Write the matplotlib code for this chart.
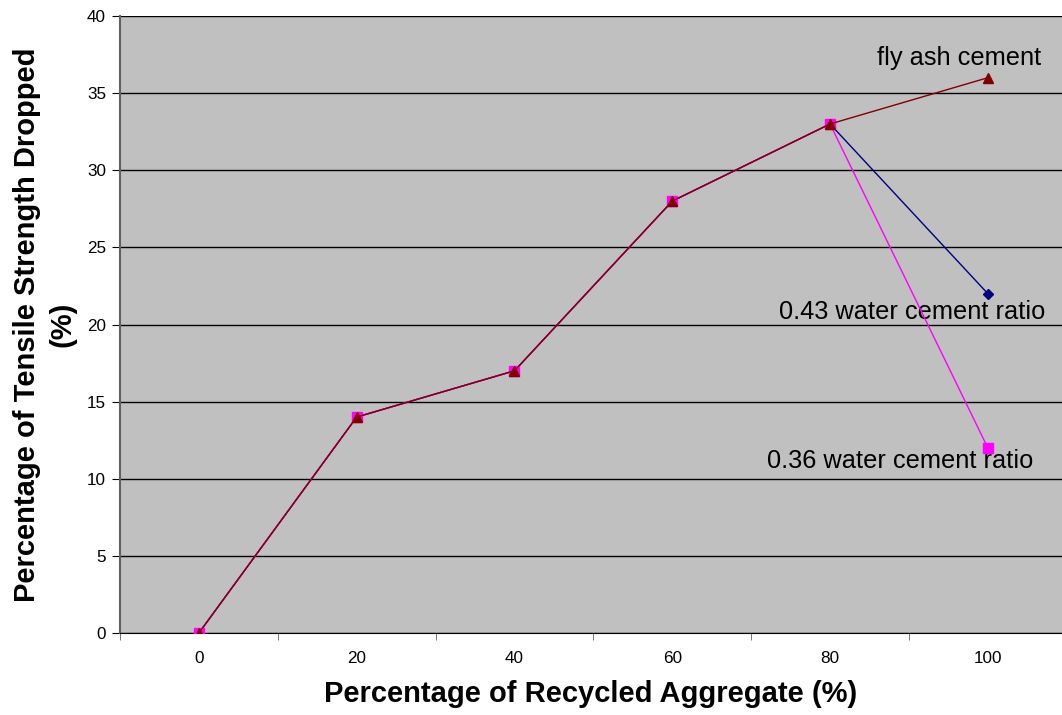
import matplotlib
matplotlib.use("Agg")
import matplotlib.pyplot as plt
from matplotlib.ticker import MultipleLocator, FixedLocator

plt.rcParams['font.family'] = ['Liberation Sans', 'DejaVu Sans']

recycled = [0, 20, 40, 60, 80, 100]
wc_043 = [0, 14, 17, 28, 33, 22]
wc_036 = [0, 14, 17, 28, 33, 12]
fly_ash = [0, 14, 17, 28, 33, 36]

pos = list(range(len(recycled)))

fig = plt.figure(figsize=(10.62, 7.15), dpi=100)
ax = fig.add_axes([0.113, 0.1147, 0.887, 0.8629])
ax.set_facecolor('#C0C0C0')

ax.plot(pos, wc_043, color='#000080', marker='D', markersize=5, linewidth=1, zorder=3)
ax.plot(pos, wc_036, color='#FF00FF', marker='s', markersize=7, linewidth=1, zorder=4)
ax.plot(pos, fly_ash, color='#800000', marker='^', markersize=7, linewidth=1, zorder=5)

ax.set_xlim(-0.5, 5.47)
ax.set_ylim(0, 40)
ax.yaxis.set_major_locator(MultipleLocator(5))
ax.set_xticks(pos)
ax.set_xticklabels([str(v) for v in recycled])
ax.xaxis.set_minor_locator(FixedLocator([i - 0.5 for i in range(len(recycled) + 1)]))
ax.tick_params(axis='x', which='major', length=0, pad=13, labelsize=12.3)
ax.tick_params(axis='x', which='minor', length=5, direction='out', color='#606060')
ax.tick_params(axis='y', length=6, direction='out', labelsize=12.3, pad=4)

ax.grid(axis='y', color='black', linewidth=1)
ax.set_axisbelow(True)
for side in ('top', 'right'):
    ax.spines[side].set_visible(False)
ax.spines['left'].set_color('#606060')
ax.spines['left'].set_linewidth(1.5)
ax.spines['bottom'].set_color('black')

ax.text(4.816, 36.8, 'fly ash cement', fontsize=18.3, ha='center', va='baseline')
ax.text(4.52, 20.36, '0.43 water cement ratio', fontsize=18.3, ha='center', va='baseline')
ax.text(4.445, 10.7, '0.36 water cement ratio', fontsize=18.3, ha='center', va='baseline')

ax.set_xlabel('Percentage of Recycled Aggregate (%)', fontsize=21, fontweight='bold', labelpad=10)
ax.set_ylabel('Percentage of Tensile Strength Dropped\n(%)', fontsize=21, fontweight='bold',
              labelpad=8, linespacing=1.3)

fig.savefig('out.png', dpi=100)
